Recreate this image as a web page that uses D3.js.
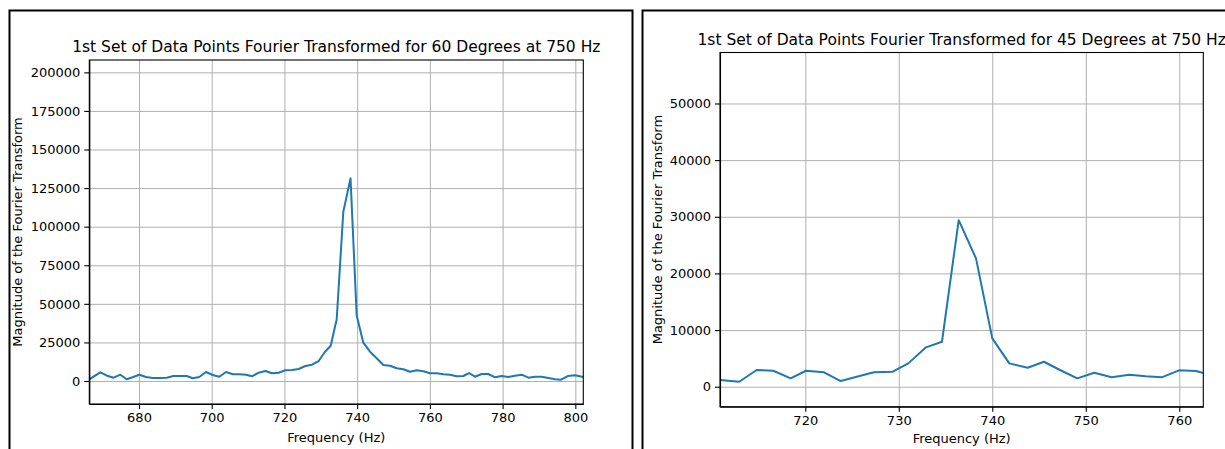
<!DOCTYPE html>
<html lang="en">
<head>
<meta charset="UTF-8">
<title>Fourier Transform Magnitude</title>
<script src="https://d3js.org/d3.v7.min.js"></script>
<style>
    body { margin: 0; background: #fff; }
    svg { display: block; font-family: "DejaVu Sans", sans-serif; }
    .grid line { stroke: #b0b0b0; stroke-width: 1; }
    .grid path { display: none; }
    .axis path, .axis line { stroke: #000; stroke-width: 1.1; }
    .axis text { fill: #000; font-size: 13px; font-family: "DejaVu Sans", sans-serif; }
</style>
</head>
<body>
<svg width="1225" height="449"></svg>
<script>
    // 60 degrees: frequency (Hz) and magnitude
    const freq60 = [666.33, 669.36, 671.20, 673.04, 674.86, 676.62, 678.43, 680.08, 681.93, 683.77,
        685.78, 687.62, 689.43, 691.28, 693.12, 694.77, 696.58, 698.43, 700.27, 702.08,
        703.93, 705.77, 707.59, 709.43, 711.08, 712.92, 714.74, 716.58, 718.42, 720.24,
        722.08, 723.92, 725.74, 727.58, 729.42, 731.16, 732.72, 734.37, 736.19, 738.17,
        739.87, 741.69, 743.53, 745.37, 747.19, 749.03, 750.87, 752.69, 754.53, 756.38,
        758.19, 760.03, 761.88, 763.69, 765.53, 767.38, 769.19, 770.76, 772.41, 774.25,
        776.07, 777.91, 779.75, 781.57, 783.41, 785.25, 787.07, 788.91, 790.75, 792.57,
        794.41, 796.06, 797.90, 799.91, 802.19];
    const mag60 = [1100, 5640, 3430, 2140, 4080, 1100, 2590, 4080, 2590, 1940,
        1940, 2140, 3240, 3240, 3240, 1750, 2590, 5830, 3890, 2790,
        5830, 4340, 4340, 4080, 3040, 5380, 6480, 4990, 5380, 6930,
        7130, 7780, 9720, 10560, 12960, 18990, 22870, 39980, 109700, 131300,
        42440, 24820, 18990, 14710, 10370, 9910, 8230, 7580, 6030, 6930,
        6290, 4990, 4990, 4340, 4080, 3050, 3240, 5180, 2790, 4540,
        4540, 2400, 3240, 2590, 3430, 4080, 2140, 2790, 2790, 1940,
        1100, 840, 3240, 3690, 2590];

    // 45 degrees: frequency (Hz) and magnitude
    const freq45 = [710.88, 712.94, 714.80, 716.58, 718.44, 720.07, 722.00, 723.79, 725.50, 727.35,
        729.35, 731.02, 732.91, 734.62, 736.41, 738.26, 740.00, 741.82, 743.79, 745.53,
        747.24, 749.09, 750.91, 752.77, 754.65, 756.41, 758.12, 759.97, 761.79, 762.57];
    const mag45 = [1180, 880, 2950, 2820, 1480, 2820, 2540, 1000, 1760, 2540,
        2650, 4120, 6950, 7940, 29400, 22650, 8540, 4120, 3350, 4410,
        2950, 1480, 2470, 1660, 2120, 1830, 1660, 2890, 2770, 2420];

    // tick labels
    const xTicks60 = [680, 700, 720, 740, 760, 780, 800];
    const yTicks60 = [0, 25000, 50000, 75000, 100000, 125000, 150000, 175000, 200000];
    const xTicks45 = [720, 730, 740, 750, 760];
    const yTicks45 = [0, 10000, 20000, 30000, 40000, 50000];

    const titles = [
        "1st Set of Data Points Fourier Transformed for 60 Degrees at 750 Hz",
        "1st Set of Data Points Fourier Transformed for 45 Degrees at 750 Hz"
    ];
    const xLabel = "Frequency (Hz)";
    const yLabel = "Magnitude of the Fourier Transform";

    const svg = d3.select("svg");
    svg.append("rect").attr("width", 1225).attr("height", 449).attr("fill", "#fff");

    // frames around each figure
    svg.append("rect")
        .attr("x", 9.5).attr("y", 10.5).attr("width", 623).attr("height", 460)
        .attr("fill", "none").attr("stroke", "#000").attr("stroke-width", 2);
    svg.append("rect")
        .attr("x", 642.5).attr("y", 10.5).attr("width", 620).attr("height", 460)
        .attr("fill", "none").attr("stroke", "#000").attr("stroke-width", 2);

    const fmt = d3.format("d");

    function drawPanel(p) {
        const w = p.right - p.left;
        const h = p.bottom - p.top;
        const g = svg.append("g").attr("transform", `translate(${p.left},${p.top})`);

        const x = d3.scaleLinear().domain(p.xDomain).range([0, w]);
        const y = d3.scaleLinear().domain(p.yDomain).range([h, 0]);

        // grid
        g.append("g").attr("class", "grid")
            .attr("transform", `translate(0,${h})`)
            .call(d3.axisBottom(x).tickValues(p.xTicks).tickSize(-h).tickFormat(""));
        g.append("g").attr("class", "grid")
            .call(d3.axisLeft(y).tickValues(p.yTicks).tickSize(-w).tickFormat(""));

        // line
        const clipId = "clip" + p.id;
        g.append("clipPath").attr("id", clipId)
            .append("rect").attr("width", w).attr("height", h);

        const line = d3.line()
            .x((d, i) => x(p.freq[i]))
            .y(d => y(d));

        g.append("path")
            .datum(p.mag)
            .attr("clip-path", `url(#${clipId})`)
            .attr("fill", "none")
            .attr("stroke", "#1f77b4")
            .attr("stroke-width", 2)
            .attr("stroke-linejoin", "round")
            .attr("d", line);

        // axes
        g.append("g").attr("class", "axis")
            .attr("transform", `translate(0,${h})`)
            .call(d3.axisBottom(x).tickValues(p.xTicks).tickFormat(fmt)
                .tickSize(5).tickPadding(4).tickSizeOuter(0));
        g.append("g").attr("class", "axis")
            .call(d3.axisLeft(y).tickValues(p.yTicks).tickFormat(fmt)
                .tickSize(5).tickPadding(4).tickSizeOuter(0));

        // box
        g.append("rect").attr("width", w).attr("height", h)
            .attr("fill", "none").attr("stroke", "#000").attr("stroke-width", 1.1);

        // title & labels
        g.append("text")
            .attr("x", w / 2).attr("y", -8)
            .attr("text-anchor", "middle")
            .attr("font-size", 15.5)
            .text(p.title);

        g.append("text")
            .attr("x", w / 2).attr("y", p.xLabelY - p.top)
            .attr("text-anchor", "middle")
            .attr("font-size", 13)
            .text(xLabel);

        g.append("text")
            .attr("transform", `translate(${p.yLabelX - p.left},${h / 2}) rotate(-90)`)
            .attr("text-anchor", "middle")
            .attr("dy", "0.35em")
            .attr("font-size", 13)
            .text(yLabel);
    }

    drawPanel({
        id: 60, left: 89.3, right: 583.3, top: 60, bottom: 404,
        xDomain: [666.33, 802.19], yDomain: [-14900, 208000],
        xTicks: xTicks60, yTicks: yTicks60, freq: freq60, mag: mag60,
        title: titles[0], xLabelY: 442, yLabelX: 17
    });

    drawPanel({
        id: 45, left: 720, right: 1203.3, top: 52.5, bottom: 406.7,
        xDomain: [710.88, 762.57], yDomain: [-3527, 59000],
        xTicks: xTicks45, yTicks: yTicks45, freq: freq45, mag: mag45,
        title: titles[1], xLabelY: 443, yLabelX: 657
    });
</script>
</body>
</html>
